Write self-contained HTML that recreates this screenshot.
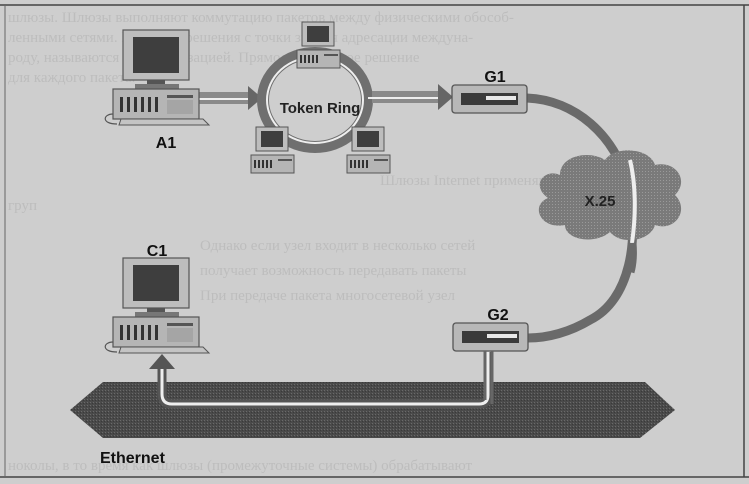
<!DOCTYPE html>
<html><head><meta charset="utf-8"><style>
html,body{margin:0;padding:0;background:#cecece;}
svg{display:block}
text.lb{font-family:"Liberation Sans",sans-serif;font-weight:bold;}
text.bl{font-family:"Liberation Serif",serif;font-weight:normal;}
</style></head><body>
<svg width="749" height="484" viewBox="0 0 749 484" xmlns="http://www.w3.org/2000/svg">
<defs>
<pattern id="dots" width="3" height="3" patternUnits="userSpaceOnUse">
<rect width="3" height="3" fill="#7a7a7a"/><rect width="1" height="1" fill="#9a9a9a"/>
</pattern>
<pattern id="dark" width="3" height="3" patternUnits="userSpaceOnUse">
<rect width="3" height="3" fill="#4a4a4a"/><rect width="1" height="1" fill="#6a6a6a"/><rect x="2" y="1" width="1" height="1" fill="#3a3a3a"/>
</pattern>
<g id="pc">
<rect x="0" y="0" width="66" height="50" fill="#bdbdbd" stroke="#555" stroke-width="1.2"/>
<rect x="10" y="7" width="46" height="36" fill="#3e3e3e"/>
<rect x="24" y="50" width="18" height="4" fill="#555"/>
<rect x="12" y="54" width="44" height="5" fill="#777"/>
<rect x="-10" y="59" width="86" height="30" fill="#b5b5b5" stroke="#555" stroke-width="1.2"/>
<g fill="#333"><rect x="-3" y="67" width="3" height="15"/><rect x="4" y="67" width="3" height="15"/><rect x="11" y="67" width="3" height="15"/><rect x="18" y="67" width="3" height="15"/><rect x="25" y="67" width="3" height="15"/><rect x="32" y="67" width="3" height="15"/></g>
<rect x="44" y="65" width="26" height="3" fill="#555"/>
<rect x="44" y="70" width="26" height="14" fill="#a5a5a5"/>
<path d="M-2 89 L-4 95 L86 95 L80 89 Z" fill="#c4c4c4" stroke="#555" stroke-width="1"/>
<path d="M-10 84 C-20 84 -22 94 -6 94" fill="none" stroke="#555" stroke-width="1.2"/>
</g>
<g id="spc">
<rect x="0" y="0" width="32" height="24" fill="#bdbdbd" stroke="#555"/>
<rect x="5" y="4" width="22" height="16" fill="#3e3e3e"/>
<rect x="-5" y="28" width="43" height="18" fill="#b5b5b5" stroke="#555"/>
<g fill="#333"><rect x="-2" y="33" width="2" height="8"/><rect x="2" y="33" width="2" height="8"/><rect x="6" y="33" width="2" height="8"/><rect x="10" y="33" width="2" height="8"/><rect x="14" y="33" width="2" height="8"/></g>
<rect x="22" y="32" width="14" height="2" fill="#555"/>
</g>
<g id="gw">
<rect x="0" y="0" width="75" height="28" rx="3" fill="#b8b8b8" stroke="#555" stroke-width="1.3"/>
<rect x="9" y="8" width="57" height="12" fill="#3a3a3a"/>
<rect x="34" y="11" width="30" height="4" fill="#e8e8e8"/>
</g>
</defs>
<rect width="749" height="484" fill="#cecece"/>
<g fill="#bdbdbd" font-size="15">
<text class="bl" x="8" y="22">шлюзы. Шлюзы выполняют коммутацию пакетов между физическими обособ-</text>
<text class="bl" x="8" y="42">ленными сетями. Практике решения с точки зрения адресации междуна-</text>
<text class="bl" x="8" y="62">роду, называются маршрутизацией. Прямое и обратное решение</text>
<text class="bl" x="8" y="82">для каждого пакета.</text>
<text class="bl" x="380" y="185">Шлюзы Internet применяют протокол</text>
<text class="bl" x="8" y="210">груп</text>
<text class="bl" x="200" y="250">Однако если узел входит в несколько сетей</text>
<text class="bl" x="200" y="275">получает возможность передавать пакеты</text>
<text class="bl" x="200" y="300">При передаче пакета многосетевой узел</text>
<text class="bl" x="8" y="470">ноколы, в то время как шлюзы (промежуточные системы) обрабатывают</text>
</g>
<line x1="0" y1="5" x2="749" y2="5" stroke="#444" stroke-width="1.5"/>
<line x1="0" y1="477" x2="749" y2="477" stroke="#444" stroke-width="1.5"/>
<line x1="5" y1="5" x2="5" y2="477" stroke="#666" stroke-width="1"/>
<line x1="744" y1="5" x2="744" y2="477" stroke="#444" stroke-width="1.5"/>

<path d="M70 410 L103 382 L645 382 L675 410 L640 438 L103 438 Z" fill="url(#dark)"/>
<path d="M488 352 L488 395 Q488 404 479 404 L172 404 Q162 404 162 394 L162 366" fill="none" stroke="#555" stroke-width="9"/>
<path d="M488 352 L488 395 Q488 404 479 404 L172 404 Q162 404 162 394 L162 366" fill="none" stroke="#eee" stroke-width="3"/>

<path d="M527 98 C575 100 615 135 628 185 C640 240 630 300 590 320 C570 332 548 338 528 338" fill="none" stroke="#6a6a6a" stroke-width="9"/>
<path d="M560 175 C560 155 590 150 605 160 C615 145 650 148 655 165 C675 160 690 180 675 195 C690 210 675 232 655 225 C650 242 620 245 610 232 C595 245 565 240 565 225 C540 230 530 205 548 198 C530 185 545 168 560 175 Z" fill="url(#dots)"/>
<path d="M630 160 C636 185 636 215 632 243" fill="none" stroke="#eee" stroke-width="4"/>
<path d="M632 243 C633 255 632 265 630 272" fill="none" stroke="#6a6a6a" stroke-width="9"/>
<text class="lb" x="600" y="206" font-size="15" text-anchor="middle" fill="#222">X.25</text>

<rect x="198" y="92" width="55" height="12" fill="#8a8a8a"/>
<line x1="198" y1="99" x2="258" y2="99" stroke="#eee" stroke-width="2"/>
<path d="M248 86 L262 98 L248 110 Z" fill="#666"/>
<ellipse cx="315" cy="100" rx="52" ry="47" fill="none" stroke="#6f6f6f" stroke-width="12"/>
<ellipse cx="315" cy="100" rx="48" ry="43" fill="none" stroke="#eee" stroke-width="2"/>
<text class="lb" x="320" y="113" font-size="15" text-anchor="middle" fill="#222">Token Ring</text>
<rect x="372" y="91" width="70" height="12" fill="#8a8a8a"/>
<line x1="368" y1="98" x2="448" y2="98" stroke="#eee" stroke-width="2"/>
<path d="M438 84 L453 97 L438 110 Z" fill="#666"/>

<use href="#spc" x="302" y="22"/>
<use href="#spc" x="256" y="127"/>
<use href="#spc" x="352" y="127"/>
<use href="#pc" x="123" y="30"/>
<use href="#pc" x="123" y="258"/>
<path d="M149 369 L162 354 L175 369 Z" fill="#555"/>
<use href="#gw" x="452" y="85"/>
<use href="#gw" x="453" y="323"/>
<line x1="485" y1="351" x2="485" y2="400" stroke="#666" stroke-width="3"/>
<line x1="492" y1="351" x2="492" y2="404" stroke="#666" stroke-width="3"/>

<text class="lb" x="166" y="148" font-size="16" text-anchor="middle" fill="#111">A1</text>
<text class="lb" x="495" y="82" font-size="16" text-anchor="middle" fill="#111">G1</text>
<text class="lb" x="498" y="320" font-size="16" text-anchor="middle" fill="#111">G2</text>
<text class="lb" x="157" y="256" font-size="16" text-anchor="middle" fill="#111">C1</text>
<text class="lb" x="100" y="463" font-size="16" fill="#111">Ethernet</text>
</svg>
</body></html>
